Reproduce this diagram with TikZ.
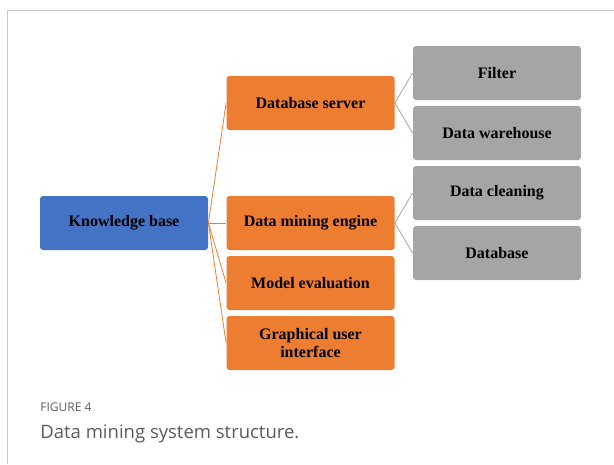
\documentclass[tikz,border=0pt]{standalone}
\usepackage{fontspec}
\setmainfont{Liberation Serif}
\newfontfamily\capfont{Open Sans}
\usepackage{tikz}
\definecolor{kbblue}{HTML}{4472C4}
\definecolor{midorange}{HTML}{ED7D31}
\definecolor{leafgray}{HTML}{A5A5A5}
\definecolor{framegray}{HTML}{C8C8C8}
\definecolor{capgray}{HTML}{5A5A5A}

\begin{document}
\begin{tikzpicture}[x=1pt,y=-1pt,
    box/.style={draw=none,rectangle,rounded corners=3pt,minimum width=168pt,minimum height=54pt,
        inner sep=2pt,align=center,font=\fontsize{16}{18}\selectfont\bfseries},
    every path/.style={line width=0.8pt}]
          \useasboundingbox (0,0) rectangle (614,464);
          \draw[framegray] (7,464) -- (7,10) -- (614,10);

          \node[box,fill=kbblue] (KB) at (124,223) {Knowledge base};

          \node[box,fill=midorange] (DS) at (310.5,103) {Database server};
          \node[box,fill=midorange] (DME) at (310.5,223) {Data mining engine};
          \node[box,fill=midorange] (ME) at (310.5,283) {Model evaluation};
          \node[box,fill=midorange] (GUI) at (310.5,343) {Graphical user\\interface};

          \node[box,fill=leafgray] (F) at (497,73) {Filter};
          \node[box,fill=leafgray] (DW) at (497,133) {Data warehouse};
          \node[box,fill=leafgray] (DC) at (497,193) {Data cleaning};
          \node[box,fill=leafgray] (DB) at (497,253) {Database};

          \draw[midorange] (KB.east) -- (DS.west);
          \draw[midorange] (KB.east) -- (DME.west);
          \draw[midorange] (KB.east) -- (ME.west);
          \draw[midorange] (KB.east) -- (GUI.west);

          \draw[leafgray] (DS.east) -- (F.west);
          \draw[leafgray] (DS.east) -- (DW.west);
          \draw[leafgray] (DME.east) -- (DC.west);
          \draw[leafgray] (DME.east) -- (DB.west);

          \node[anchor=base west,inner sep=0pt,text=capgray,font=\capfont\fontsize{12}{13}\selectfont] (FIG) at (40,411) {FIGURE 4};
          \node[anchor=base west,inner sep=0pt,text=capgray,font=\capfont\fontsize{18.5}{20}\selectfont] (CAP) at (40,438) {Data mining system structure.};
        \end{tikzpicture}
\end{document}
